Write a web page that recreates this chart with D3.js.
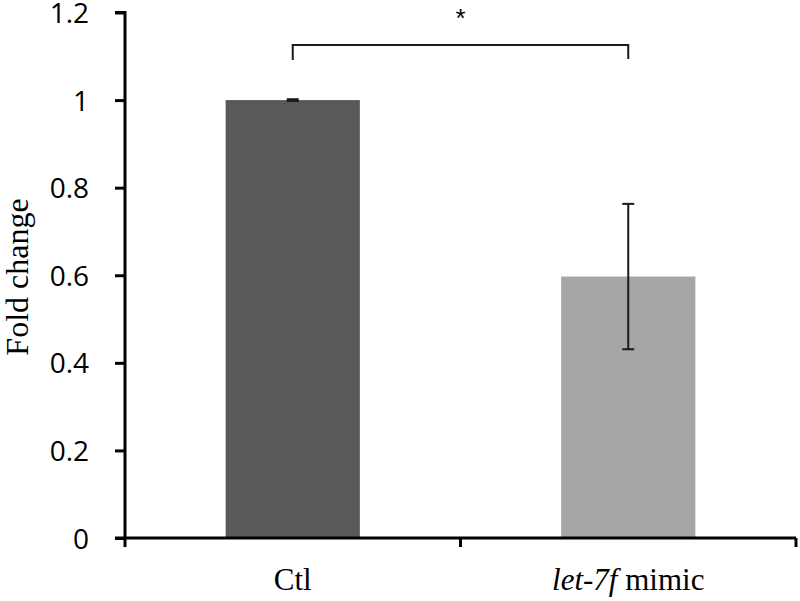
<!DOCTYPE html>
<html><head><meta charset="utf-8">
<script src="https://cdn.jsdelivr.net/npm/d3@7"></script>
<style>body{margin:0;background:#fff}svg{display:block}</style>
</head><body>
<script>
const categories = ["Ctl", "let-7f mimic"];
const values = [1.0, 0.597];
const errors = [0.002, 0.166];
const colors = ["#595959", "#a6a6a6"];
const yTicks = [0, 0.2, 0.4, 0.6, 0.8, 1, 1.2];
const yLabel = "Fold change";
const sigLabel = "*";

const W = 800, H = 601;
const svg = d3.select("body").append("svg").attr("width", W).attr("height", H);
const x = d3.scaleBand().domain(categories).range([125, 796]).padding(0);
const y = d3.scaleLinear().domain([0, 1.2]).range([538, 12.5]);
const barW = x.bandwidth() * 0.4;

// bars
svg.selectAll("rect.bar").data(categories).enter().append("rect")
  .attr("x", d => x(d) + x.bandwidth()/2 - barW/2)
  .attr("width", barW)
  .attr("y", (d,i) => y(values[i]))
  .attr("height", (d,i) => y(0) - y(values[i]))
  .attr("fill", (d,i) => colors[i]);

// error bars
const eg = svg.append("g").attr("stroke", "#1a1a1a").attr("stroke-width", 2);
categories.forEach((c,i) => {
  const cx = x(c) + x.bandwidth()/2;
  const hi = y(values[i] + errors[i]), lo = y(values[i] - errors[i]);
  eg.append("line").attr("x1", cx).attr("x2", cx).attr("y1", hi).attr("y2", lo);
  eg.append("line").attr("x1", cx-6).attr("x2", cx+6).attr("y1", hi).attr("y2", hi);
  eg.append("line").attr("x1", cx-6).attr("x2", cx+6).attr("y1", lo).attr("y2", lo);
});

// y axis
const yAxis = d3.axisLeft(y).tickValues(yTicks).tickSize(10).tickPadding(26)
  .tickFormat(d => d3.format("")(d));
const ya = svg.append("g").attr("transform", "translate(125,0)").call(yAxis);
ya.attr("font-size", null);
ya.select(".domain").attr("stroke", "#000").attr("stroke-width", 3).attr("d", "M-10,12.5H0V538");
ya.selectAll(".tick line").attr("stroke", "#000").attr("stroke-width", 3);
ya.selectAll(".tick text").style("font-family", "Open Sans, Liberation Sans, sans-serif")
  .style("font-size", "28px").attr("fill", "#000").attr("dy", "0.36em");

// x axis
const xa = svg.append("g").attr("transform", "translate(0,538)");
xa.append("line").attr("x1", 115).attr("x2", 796).attr("y1", 0).attr("y2", 0)
  .attr("stroke", "#000").attr("stroke-width", 3);
const xTickPos = [125, ...categories.slice(1).map(c => x(c)), 796];
xa.selectAll("line.t").data(xTickPos).enter().append("line")
  .attr("x1", d => d).attr("x2", d => d).attr("y1", 0).attr("y2", 9)
  .attr("stroke", "#000").attr("stroke-width", 3);

// x labels
const lab = svg.append("g").style("font-family", "Liberation Serif, Times New Roman, serif")
  .style("font-size", "31px").attr("fill", "#000").attr("text-anchor", "middle");
lab.append("text").attr("x", x(categories[0]) + x.bandwidth()/2).attr("y", 590).text(categories[0]);
const t2 = lab.append("text").attr("x", x(categories[1]) + x.bandwidth()/2).attr("y", 590);
t2.append("tspan").attr("font-style", "italic").text("let-7f");
t2.append("tspan").text(" mimic");

// y label
svg.append("text").attr("transform", "translate(28,277) rotate(-90)")
  .attr("text-anchor", "middle").style("font-family", "Liberation Serif, Times New Roman, serif")
  .style("font-size", "32px").attr("fill", "#000").text(yLabel);

// significance bracket
const c1 = x(categories[0]) + x.bandwidth()/2, c2 = x(categories[1]) + x.bandwidth()/2;
svg.append("path").attr("d", `M${c1},60V45H${c2}V59`).attr("fill", "none")
  .attr("stroke", "#1a1a1a").attr("stroke-width", 2);
svg.append("text").attr("x", (c1+c2)/2).attr("y", 27).attr("text-anchor", "middle")
  .style("font-family", "Liberation Sans, sans-serif").style("font-size", "26px").attr("fill", "#000").text(sigLabel);
</script>
</body></html>
